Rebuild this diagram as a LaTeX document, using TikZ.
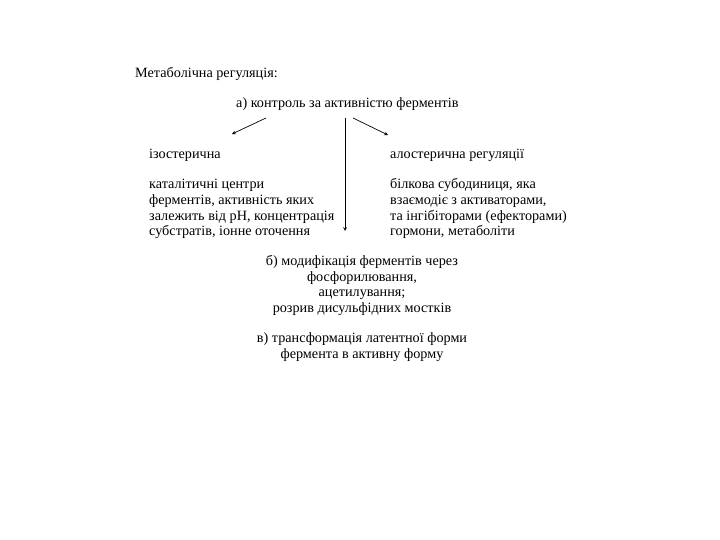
\documentclass[tikz,border=0pt]{standalone}
\usepackage{fontspec}
\setmainfont{Liberation Serif}
\tikzset{
  txt/.style={inner sep=0pt, font=\fontsize{14.2}{15.8}\selectfont},
  arr/.style={->, >=stealth, line width=0.7pt}
}
\begin{document}
\begin{tikzpicture}[x=1pt,y=-1pt]
\useasboundingbox (0,0) rectangle (720,540);
\node[txt, anchor=west] (title) at (135,74) {Метаболічна регуляція:};
\node[txt, anchor=west] (a) at (236,104) {а) контроль за активністю ферментів};
\coordinate (s1) at (266,118);
\coordinate (e1) at (232,134);
\coordinate (s2) at (345,118);
\coordinate (e2) at (345,231);
\coordinate (s3) at (353,118);
\coordinate (e3) at (388,135);
\draw[arr] (s1) -- (e1);
\draw[arr] (s2) -- (e2);
\draw[arr] (s3) -- (e3);
\node[txt, anchor=north west, align=left] (iso) at (149,149) {ізостерична\\[14pt]каталітичні центри\\ферментів, активність яких\\залежить від pH, концентрація\\субстратів, іонне оточення};
\node[txt, anchor=north west, align=left] (allo) at (390,149) {алостерична регуляції\\[14pt]білкова субодиниця, яка\\взаємодіє з активаторами,\\та інгібіторами (ефекторами)\\гормони, метаболіти};
\node[txt, anchor=north, align=center] (b) at (362,255) {б) модифікація ферментів через\\фосфорилювання,\\ацетилування;\\розрив дисульфідних мостків\\[14pt]в) трансформація латентної форми\\фермента в активну форму};
\end{tikzpicture}
\end{document}
